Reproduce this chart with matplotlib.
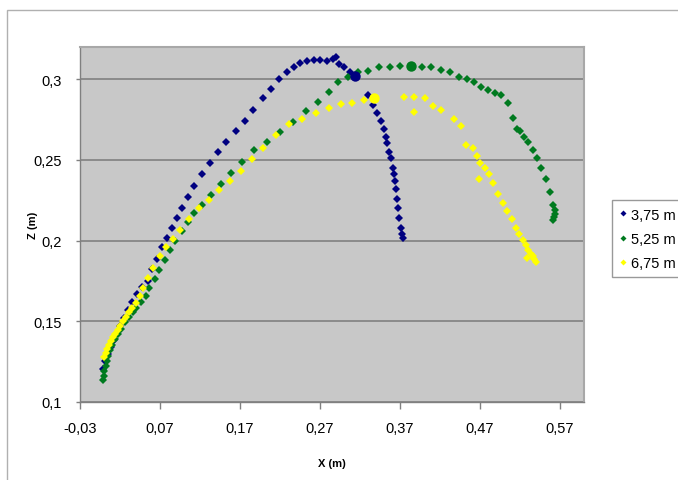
import matplotlib
matplotlib.use("Agg")
import matplotlib.pyplot as plt
from matplotlib.patches import Rectangle
from matplotlib.ticker import FuncFormatter

plt.rcParams['font.family'] = ['Liberation Sans', 'DejaVu Sans']

# 3,75 m
blue_x = [-0.0013, 0.0013, 0.005, 0.0088, 0.0125, 0.0163, 0.02, 0.025, 0.03, 0.035,
          0.0413, 0.0475, 0.0546, 0.0604, 0.0666, 0.0725, 0.0784, 0.0846, 0.0909, 0.0975,
          0.1054, 0.1129, 0.1225, 0.1325, 0.1429, 0.1529, 0.1646, 0.1759, 0.1866, 0.1988,
          0.2088, 0.2188, 0.2284, 0.2375, 0.2454, 0.2534, 0.2619, 0.2706, 0.2784, 0.2866,
          0.29, 0.2941, 0.3006, 0.3075, 0.3138, 0.3304, 0.3366, 0.3416, 0.3463, 0.3496,
          0.3521, 0.3534, 0.3559, 0.3584, 0.3609, 0.3625, 0.3641, 0.3654, 0.3666, 0.3679,
          0.3691, 0.3713, 0.3725, 0.3741]
blue_z = [0.1205, 0.1254, 0.1298, 0.1341, 0.1384, 0.1428, 0.1471, 0.1521, 0.157, 0.162,
          0.167, 0.1713, 0.1752, 0.1825, 0.1887, 0.1959, 0.2019, 0.2079, 0.2139, 0.2201,
          0.2269, 0.2341, 0.2412, 0.2482, 0.255, 0.2612, 0.2682, 0.2742, 0.2812, 0.2883,
          0.2941, 0.3001, 0.3044, 0.3073, 0.3102, 0.3112, 0.3122, 0.3122, 0.3112, 0.3127,
          0.3141, 0.3094, 0.3073, 0.3047, 0.3019, 0.2905, 0.2841, 0.2792, 0.2744, 0.2693,
          0.2643, 0.2604, 0.2552, 0.2513, 0.2451, 0.2412, 0.237, 0.2321, 0.2261, 0.2201,
          0.2141, 0.2081, 0.2042, 0.2017]

# 5,25 m
green_x = [-0.0013, -0.0006, 0.0006, 0.0019, 0.0038, 0.0056, 0.0075, 0.01, 0.0138, 0.0179,
           0.0213, 0.0263, 0.0313, 0.0363, 0.04, 0.0459, 0.0521, 0.0566, 0.0638, 0.0691,
           0.0763, 0.0825, 0.0888, 0.0971, 0.1046, 0.1129, 0.1229, 0.1338, 0.1459, 0.1588,
           0.1729, 0.1875, 0.2041, 0.22, 0.2366, 0.2521, 0.2669, 0.2809, 0.2929, 0.3056,
           0.3179, 0.3306, 0.3438, 0.3575, 0.3706, 0.3838, 0.3975, 0.4088, 0.4213, 0.4325,
           0.4441, 0.4534, 0.4625, 0.4713, 0.4796, 0.4888, 0.4966, 0.5044, 0.5115, 0.5166,
           0.5204, 0.5253, 0.5304, 0.5365, 0.5416, 0.5463, 0.5521, 0.5569, 0.5609, 0.5641,
           0.5638, 0.5619, 0.5609]
green_z = [0.1136, 0.1161, 0.1192, 0.1223, 0.1254, 0.1285, 0.1322, 0.1353, 0.1391, 0.1422,
           0.1453, 0.1496, 0.1527, 0.1558, 0.1585, 0.1622, 0.1659, 0.1709, 0.1761, 0.182,
           0.188, 0.1939, 0.1998, 0.2058, 0.2114, 0.2172, 0.2221, 0.2283, 0.235, 0.242,
           0.249, 0.2562, 0.261, 0.2672, 0.2734, 0.2802, 0.2862, 0.2924, 0.2982, 0.3015,
           0.3044, 0.3054, 0.3073, 0.3073, 0.3085, 0.3085, 0.3073, 0.3073, 0.306, 0.3044,
           0.3013, 0.3003, 0.2982, 0.2951, 0.2934, 0.2916, 0.2903, 0.2854, 0.2763, 0.2693,
           0.2677, 0.2642, 0.2611, 0.2562, 0.2512, 0.2453, 0.2383, 0.23, 0.2221, 0.2191,
           0.2166, 0.2147, 0.2128]

# 6,75 m
yellow_x = [0.0, 0.0019, 0.0038, 0.0063, 0.0088, 0.0113, 0.0138, 0.0169, 0.02, 0.0238,
            0.0275, 0.0313, 0.0354, 0.0394, 0.045, 0.0491, 0.0544, 0.0613, 0.0696, 0.0775,
            0.0866, 0.095, 0.1063, 0.1184, 0.1313, 0.1441, 0.1575, 0.1716, 0.1854, 0.1991,
            0.215, 0.2313, 0.2479, 0.265, 0.2809, 0.2959, 0.3104, 0.3246, 0.3379, 0.3753,
            0.3881, 0.3875, 0.4013, 0.4109, 0.4213, 0.4375, 0.4463, 0.4519, 0.4609, 0.4666,
            0.4706, 0.4759, 0.4816, 0.4688, 0.4866, 0.4929, 0.4984, 0.5035, 0.5096, 0.5146,
            0.5191, 0.5234, 0.5275, 0.5304, 0.5334, 0.5359, 0.5381, 0.5403, 0.5284]
yellow_z = [0.1279, 0.1304, 0.1329, 0.1353, 0.1378, 0.1403, 0.1422, 0.1446, 0.1471, 0.1502,
            0.1527, 0.1558, 0.1583, 0.1614, 0.1655, 0.1705, 0.1769, 0.1829, 0.1902, 0.1961,
            0.2009, 0.2066, 0.2131, 0.2201, 0.2253, 0.2311, 0.2371, 0.2433, 0.2503, 0.2574,
            0.2652, 0.2722, 0.2751, 0.2792, 0.2823, 0.2844, 0.2854, 0.2872, 0.2883, 0.2893,
            0.2893, 0.2795, 0.2883, 0.2833, 0.2812, 0.2753, 0.2711, 0.2594, 0.2574, 0.2522,
            0.2481, 0.245, 0.2412, 0.2383, 0.236, 0.229, 0.2232, 0.2181, 0.2131, 0.2081,
            0.2042, 0.2006, 0.197, 0.1944, 0.1919, 0.1902, 0.1887, 0.187, 0.1891]

# highlighted (larger) points, one per series
peak_x = [0.3138, 0.3838, 0.3379]
peak_z = [0.3019, 0.3085, 0.2883]

labels = ['3,75 m', '5,25 m', '6,75 m']
colors = ['#000080', '#007A1F', '#FFFF00']
x_ticks = [-0.03, 0.07, 0.17, 0.27, 0.37, 0.47, 0.57]
z_ticks = [0.1, 0.15, 0.2, 0.25, 0.3]

fig = plt.figure(figsize=(6.78, 4.81), dpi=100)
ax = fig.add_axes([80 / 678, 1 - 403 / 481, 504 / 678, 355 / 481])
ax.set_facecolor('#C8C8C8')

series = [(blue_x, blue_z), (green_x, green_z), (yellow_x, yellow_z)]
for (xs, zs), c, lab in zip(series, colors, labels):
    ax.plot(xs, zs, linestyle='none', marker='D', ms=3.8, mew=0, color=c, label=lab)
for px, pz, c in zip(peak_x, peak_z, colors):
    ax.plot(px, pz, linestyle='none', marker='o', ms=7.5, mew=0, color=c)

ax.set_xlim(-0.03, 0.60)
ax.set_ylim(0.1, 0.32)
ax.set_xticks(x_ticks)
ax.set_yticks(z_ticks)
fmt = FuncFormatter(lambda v, p: ('%g' % round(v, 2)).replace('.', ','))
ax.xaxis.set_major_formatter(fmt)
ax.yaxis.set_major_formatter(fmt)
ax.tick_params(axis='x', direction='out', length=5, width=1, color='#808080', pad=9, labelsize=10.5)
ax.tick_params(axis='y', direction='out', length=3, width=1, color='#808080', pad=10, labelsize=10.5)
ax.grid(axis='y', color='#808080', lw=1.2)
ax.set_axisbelow(True)

for s in ['left', 'bottom']:
    ax.spines[s].set_color('#808080')
    ax.spines[s].set_linewidth(1)
for s in ['top', 'right']:
    ax.spines[s].set_color('#A8A8A8')
    ax.spines[s].set_linewidth(1.5)

ax.set_xlabel('X (m)', fontsize=8, fontweight='bold', labelpad=16)
ax.set_ylabel('Z (m)', fontsize=8, fontweight='bold', labelpad=-3)

leg = fig.legend(loc='upper left', bbox_to_anchor=(605 / 678, 1 - 194 / 481),
                 frameon=True, fancybox=False, fontsize=10.5, handlelength=0.5,
                 handletextpad=0.3, borderpad=0.5, labelspacing=0.7, markerscale=0.8)
leg.get_frame().set_edgecolor('#808080')
leg.get_frame().set_linewidth(1)

# outer chart frame
fig.add_artist(Rectangle((7 / 678, -0.2), 1.2, 1.2 - 11 / 481,
                         transform=fig.transFigure, fill=False,
                         edgecolor='#B0B0B0', lw=1))

fig.savefig('out.png', dpi=100)
